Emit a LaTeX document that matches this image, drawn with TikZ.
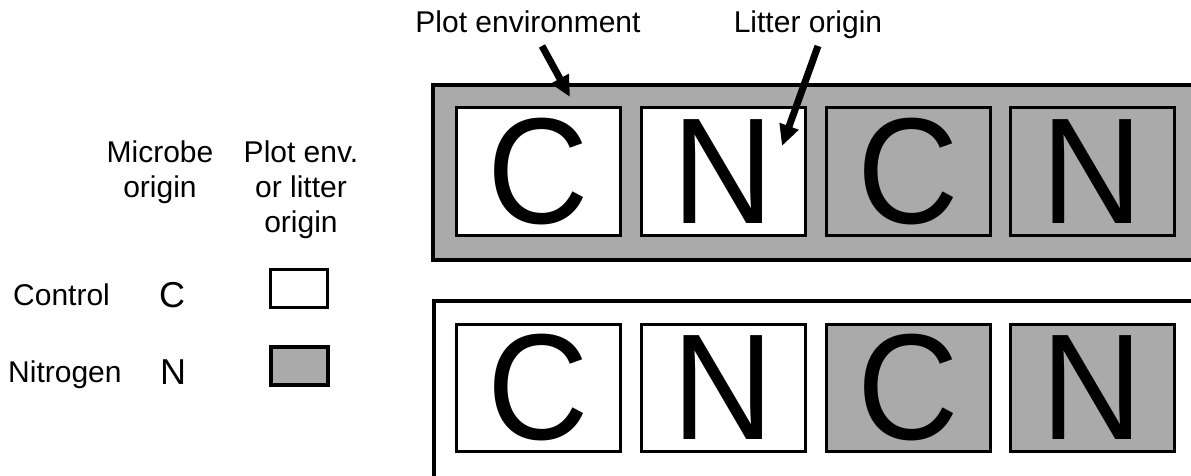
\documentclass[tikz,border=0pt]{standalone}
\usepackage{fontspec}
\setmainfont{Liberation Sans}
\usetikzlibrary{arrows.meta}
\definecolor{boxgray}{HTML}{AAAAAA}
\newcommand{\bigglyph}[1]{\scalebox{0.93}[1]{#1}}
\tikzset{
  outerbox/.style={draw=black, line width=4pt},
  letterbox/.style={draw=black, line width=3pt, minimum width=164pt, minimum height=127pt,
    inner sep=0pt, font=\fontsize{151}{151}\selectfont},
  whitebox/.style={letterbox, fill=white},
  graybox/.style={letterbox, fill=boxgray},
  lbl/.style={font=\fontsize{30}{36}\selectfont, inner sep=0pt, anchor=base},
  leglet/.style={font=\fontsize{36}{40}\selectfont, inner sep=0pt, anchor=base},
  legbox/.style={draw=black, line width=3.5pt, minimum width=57pt, minimum height=38pt, inner sep=0pt},
  pointer/.style={line width=7pt, -{Triangle[length=21pt,width=19pt]}}
}
\begin{document}
\begin{tikzpicture}[x=1pt, y=-1pt]
\useasboundingbox (0,0) rectangle (1191,476);
\clip (0,0) rectangle (1191,476);
% outer boxes
\draw[outerbox, fill=boxgray] (433,85) rectangle (1210,260);
\draw[outerbox, fill=white] (434,301) rectangle (1210,477.5);
% top row
\node[whitebox] (t1) at (538.5,171.5) {\bigglyph{C}};
\node[whitebox] (t2) at (723,171.5) {\bigglyph{N}};
\node[graybox]  (t3) at (908.5,171.5) {\bigglyph{C}};
\node[graybox]  (t4) at (1092.5,171.5) {\bigglyph{N}};
% bottom row
\node[whitebox] (b1) at (538.5,388) {\bigglyph{C}};
\node[whitebox] (b2) at (723,388) {\bigglyph{N}};
\node[graybox]  (b3) at (908.5,388) {\bigglyph{C}};
\node[graybox]  (b4) at (1092.5,388) {\bigglyph{N}};
% top labels and arrows
\node[lbl] (plotenv) at (528,33) {Plot environment};
\node[lbl] (litter) at (808,33) {Litter origin};
\coordinate (plotfrom) at (542,46);
\coordinate (plottip) at (570,97);
\coordinate (litterfrom) at (818,46);
\coordinate (littertip) at (782,146);
\draw[pointer] (plotfrom) -- (plottip);
\draw[pointer] (litterfrom) -- (littertip);
% legend
\node[lbl] (mic1) at (160,162) {Microbe};
\node[lbl] (mic2) at (160,197) {origin};
\node[lbl] (pe1) at (301,162) {Plot env.};
\node[lbl] (pe2) at (301,197) {or litter};
\node[lbl] (pe3) at (301,232) {origin};
\node[lbl, anchor=base west] (ctrl) at (13,305) {Control};
\node[lbl, anchor=base west] (nitro) at (8,382) {Nitrogen};
\node[leglet] (lc) at (172,307) {C};
\node[leglet] (ln) at (173,384) {N};
\node[legbox, fill=white] (lw) at (299,288.5) {};
\node[legbox, fill=boxgray] (lg) at (299.5,366) {};
\end{tikzpicture}
\end{document}
